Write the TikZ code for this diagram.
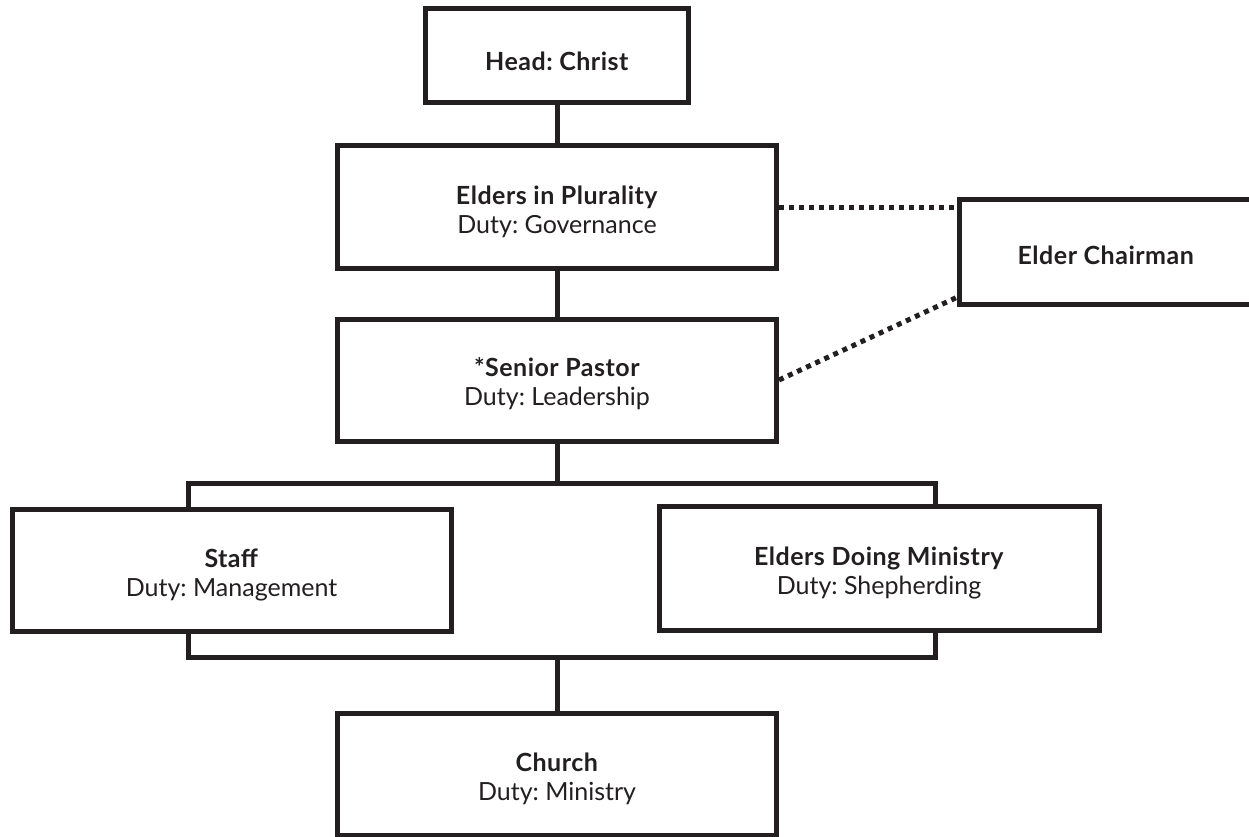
\documentclass[tikz,border=0pt]{standalone}
\usepackage{fontspec}
\setmainfont{Lato}[BoldFeatures={LetterSpace=2}]
\definecolor{ink}{RGB}{35,31,32}
\tikzset{
  box/.style={draw=ink, line width=5pt, fill=white, inner sep=0pt},
  txt/.style={inner sep=0pt, align=center, text=ink,
    font=\fontsize{25}{29}\selectfont\frenchspacing},
  link/.style={draw=ink, line width=5pt},
  dots/.style={draw=ink, line width=5pt, dash pattern=on 5pt off 5pt},
}
\begin{document}
\begin{tikzpicture}[x=1pt,y=-1pt]
\useasboundingbox (0,0) rectangle (1249,837);
% bracket behind the two middle boxes
\coordinate (brTL) at (188,483);
\coordinate (brBR) at (935,657);
\draw[link] (brTL) rectangle (brBR);

\node[box, minimum width=263pt, minimum height=94pt] (head) at (557,56) {};
\node[box, minimum width=439pt, minimum height=122pt] (elders) at (557,207) {};
\node[box, minimum width=439pt, minimum height=122pt] (pastor) at (557,380) {};
\node[box, minimum width=294pt, minimum height=105pt] (chair) at (1106,251.5) {};
\node[box, minimum width=439pt, minimum height=122pt] (staff) at (231.5,570) {};
\node[box, minimum width=440pt, minimum height=124pt] (edm) at (879,568) {};
\node[box, minimum width=439pt, minimum height=122pt] (church) at (557,774) {};

\node[txt] (head-t) at ([yshift=-5pt]head.center) {\textbf{Head: Christ}};
\node[txt] (elders-t) at ([yshift=-5pt]elders.center) {\textbf{Elders in Plurality}\\Duty: Governance};
\node[txt] (pastor-t) at ([yshift=-4pt]pastor.center) {\textbf{*Senior Pastor}\\Duty: Leadership};
\node[txt] (chair-t) at ([yshift=-4pt]chair.center) {\textbf{Elder Chairman}};
\node[txt] (staff-t) at ([yshift=-5pt]staff.center) {\textbf{Staff}\\Duty: Management};
\node[txt] (edm-t) at ([yshift=-5pt]edm.center) {\textbf{Elders Doing Ministry}\\Duty: Shepherding};
\node[txt] (church-t) at ([yshift=-5pt]church.center) {\textbf{Church}\\Duty: Ministry};

\draw[link] (head.south) -- (elders.north);
\draw[link] (elders.south) -- (pastor.north);
\draw[link] (pastor.south) -- (pastor.south |- brTL);
\draw[link] (church.north |- brBR) -- (church.north);

\draw[dots] (elders.east) -- (elders.east -| chair.west);
\draw[dots] (pastor.east) -- ([yshift=9pt]chair.south west);
\end{tikzpicture}
\end{document}
